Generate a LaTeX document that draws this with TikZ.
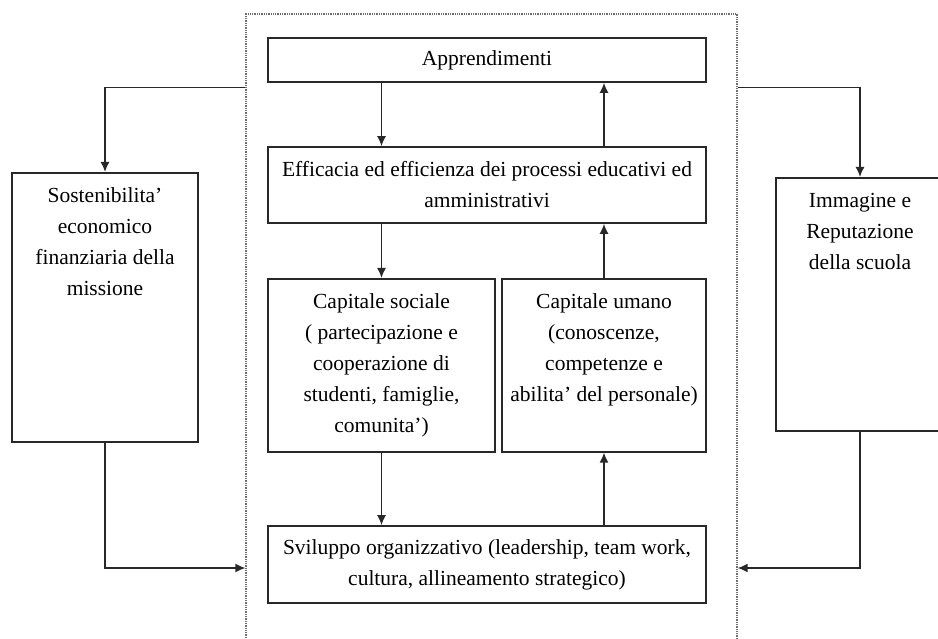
\documentclass[tikz,border=0pt]{standalone}
\usepackage{fontspec}
\setmainfont{Liberation Serif}
\usetikzlibrary{arrows.meta, calc}
\definecolor{frame_gray}{RGB}{110, 110, 110}
\definecolor{line_dark}{RGB}{40, 40, 40}

\begin{document}
\begin{tikzpicture}[
    x=1pt, y=-1pt,
    every node/.style={
        font=\fontsize{21.5}{31}\selectfont
    },
    wide/.style={
        rectangle,
        draw=line_dark,
        line width=1.6pt,
        minimum width=438pt,
        minimum height=#1,
        inner sep=0pt,
        align=center
    },
    tall/.style={
        rectangle,
        draw=line_dark,
        line width=1.6pt,
        anchor=north,
        inner xsep=4pt,
        inner ysep=6pt,
        text height=24pt,
        align=flush center
    },
    arrow/.style={
        -{Latex[length=10pt, width=9pt]},
        line width=1.5pt,
        draw=line_dark
    }
]
\useasboundingbox (0,0) rectangle (938,639);

% dotted frame round the school
\node[draw=frame_gray, densely dotted, line width=1.3pt, minimum width=491pt,
      minimum height=640pt, inner sep=0pt] (frame) at (491.5,334) {};

\node[wide=44pt] (appr) at (487,60) {Apprendimenti};
\node[wide=76pt] (effic) at (487,185) {Efficacia ed efficienza dei processi educativi ed\\amministrativi};
\node[tall, text width=219pt, text depth=137pt] (sociale) at (381.5,278)
    {Capitale sociale\\( partecipazione e\\cooperazione di\\studenti, famiglie,\\comunita')};
\node[tall, text width=196pt, text depth=137pt] (umano) at (604,278)
    {Capitale umano\\(conoscenze,\\competenze e\\abilita' del personale)};
\node[wide=77pt] (svil) at (487,564.5) {Sviluppo organizzativo (leadership, team work,\\cultura, allineamento strategico)};

\node[tall, text width=178pt, text depth=233pt] (sost) at (105,172)
    {Sostenibilita'\\economico\\finanziaria della\\missione};
\node[tall, text width=160pt, text depth=217pt] (immag) at (860,177)
    {Immagine e\\Reputazione\\della scuola};

% inside
\draw[arrow] (appr.south -| sociale.north) -- (effic.north -| sociale.north);
\draw[arrow] (effic.north -| umano.north) -- (appr.south -| umano.north);
\draw[arrow] (effic.south -| sociale.north) -- (sociale.north);
\draw[arrow] (umano.north) -- (effic.south -| umano.north);
\draw[arrow] (sociale.south) -- (svil.north -| sociale.south);
\draw[arrow] (svil.north -| umano.south) -- (umano.south);

% outside
\draw[arrow] ($(frame.north west)+(0,74)$) -| (sost.north);
\draw[arrow] ($(frame.north east)+(0,74)$) -| (immag.north);
\draw[arrow] (sost.south) |- (frame.west |- 0,568);
\draw[arrow] (immag.south) |- (frame.east |- 0,568);

\end{tikzpicture}
\end{document}
